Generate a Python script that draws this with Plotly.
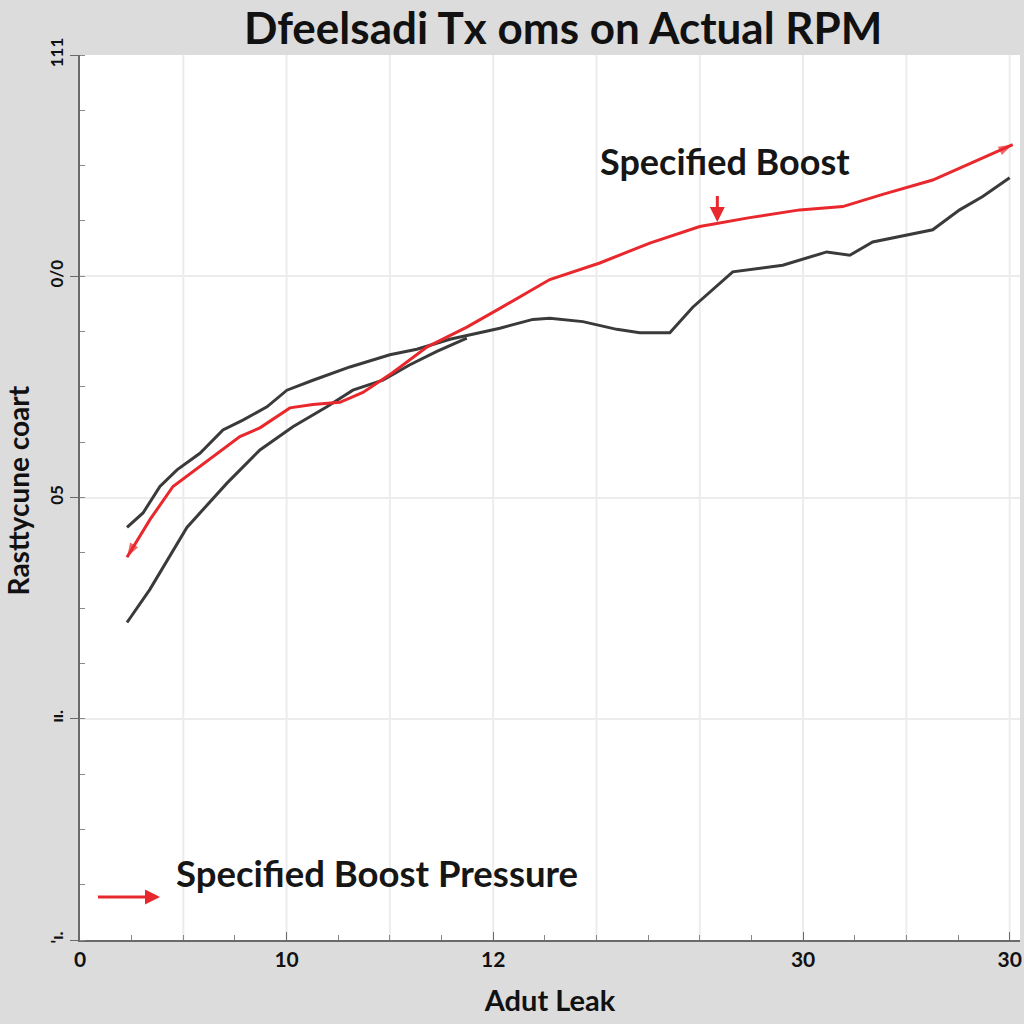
import plotly.graph_objects as go

# ---- data ----
specified_x = [0.455, 0.677, 0.900, 1.161, 1.548, 1.742, 2.032, 2.255, 2.516, 2.739, 3.029, 3.358,
               3.745, 4.065, 4.384, 4.548, 5.032, 5.516, 6.000, 6.484, 6.968, 7.384, 7.771, 8.255,
               8.642, 9.029]
specified_y = [3.46, 3.80, 4.10, 4.28, 4.55, 4.63, 4.81, 4.84, 4.86, 4.95, 5.13, 5.36,
               5.54, 5.71, 5.88, 5.97, 6.12, 6.30, 6.45, 6.53, 6.60, 6.63, 6.74, 6.87,
               7.03, 7.19]

actual_x = [0.455, 0.610, 0.774, 0.939, 1.161, 1.384, 1.577, 1.810, 2.003, 2.255, 2.613, 3.000,
            3.261, 3.581, 4.065, 4.384, 4.548, 4.868, 5.197, 5.419, 5.710, 5.932, 6.319, 6.803,
            7.229, 7.452, 7.674, 7.936, 8.255, 8.516, 8.739, 9.000]
actual_y = [3.73, 3.86, 4.10, 4.25, 4.40, 4.61, 4.70, 4.82, 4.97, 5.06, 5.18, 5.29,
            5.34, 5.43, 5.53, 5.61, 5.62, 5.59, 5.52, 5.49, 5.49, 5.72, 6.04, 6.10,
            6.22, 6.19, 6.31, 6.36, 6.42, 6.60, 6.72, 6.89]

lower_x = [0.455, 0.677, 1.035, 1.423, 1.742, 2.061, 2.390, 2.642, 2.932, 3.194, 3.455, 3.745]
lower_y = [2.87, 3.17, 3.73, 4.13, 4.43, 4.64, 4.82, 4.97, 5.06, 5.20, 5.32, 5.44]

x_tickvals = [0, 2, 4, 7, 9]
x_ticktext = ["0", "10", "12", "30", "30"]
y_tickvals = [0, 2, 4, 6, 8]
y_ticktext = ["'ı.", "ıı.", "05", "0/0", "111"]

title_text = "Dfeelsadi T\u0445 oms on Actual RPM"
x_title = "Adut Leak"
y_title = "Rasttycune coart"
callout_text = "Specified Boost"
legend_text = "Specified Boost Pressure"

RED = "#e8282c"
DARK = "#3a3a3a"
FONT = "Lato"

fig = go.Figure()

fig.add_trace(go.Scatter(x=lower_x, y=lower_y, mode="lines",
                         line=dict(color=DARK, width=3), showlegend=False, hoverinfo="skip"))
fig.add_trace(go.Scatter(x=actual_x, y=actual_y, mode="lines",
                         line=dict(color=DARK, width=3), showlegend=False, hoverinfo="skip"))

n = len(specified_x)
sizes = [15] + [0] * (n - 2) + [15]
angles = [210] + [0] * (n - 2) + [64]
fig.add_trace(go.Scatter(x=specified_x, y=specified_y, mode="lines+markers",
                         line=dict(color=RED, width=3),
                         marker=dict(symbol="arrow", size=sizes, angle=angles, color=RED,
                                     line=dict(width=0)),
                         showlegend=False, hoverinfo="skip"))

# callout "Specified Boost" with short red arrow
fig.add_annotation(x=6.17, y=6.49, xref="x", yref="y", text=" ", showarrow=True,
                   arrowhead=2, arrowsize=1.0, arrowwidth=3, arrowcolor=RED, ax=0, ay=-36)
fig.add_annotation(x=6.24, y=7.04, xref="x", yref="y", text=callout_text, showarrow=False,
                   font=dict(family=FONT, size=36, color="#161616", weight="bold"))

# legend-like arrow + label
fig.add_annotation(x=0.0851, y=0.0486, xref="paper", yref="paper", text=" ", showarrow=True,
                   arrowhead=2, arrowsize=1.0, arrowwidth=3, arrowcolor=RED, ax=-65, ay=0)
fig.add_annotation(x=0.1, y=0.0486, xref="paper", yref="paper", text=legend_text,
                   showarrow=False, xanchor="left",
                   font=dict(family=FONT, size=36.5, color="#161616", weight="bold"))

# y-axis title placed near the left page edge
fig.add_annotation(x=-0.066, y=0.508, xref="paper", yref="paper", text=y_title,
                   showarrow=False, textangle=-90, xanchor="center", yanchor="middle",
                   font=dict(family=FONT, size=28, color="#111111", weight="bold"))

fig.update_layout(
    width=1024, height=1024,
    margin=dict(l=80, r=4, t=55, b=84),
    paper_bgcolor="#dcdcdc",
    plot_bgcolor="#ffffff",
    title=dict(text=title_text, x=0.55, xanchor="center", y=0.972, yanchor="middle",
               font=dict(family=FONT, size=44, color="#111111", weight="bold")),
    xaxis=dict(range=[0, 9.1], tickvals=x_tickvals, ticktext=x_ticktext, automargin=False,
               showgrid=False, zeroline=False,
               showline=True, linecolor="#6a6a6a", linewidth=2, mirror=False,
               ticks="inside", ticklen=8, tickcolor="#6a6a6a",
               minor=dict(dtick=0.5, ticks="inside", ticklen=5, tickcolor="#8a8a8a",
                          showgrid=False),
               tickfont=dict(family=FONT, size=21, color="#111111", weight="bold"),
               title=dict(text=x_title, standoff=20,
                          font=dict(family=FONT, size=29, color="#111111", weight="bold"))),
    yaxis=dict(range=[0, 8], tickvals=y_tickvals, ticktext=y_ticktext, tickangle=-90,
               automargin=False,
               showgrid=True, gridcolor="#ececec", gridwidth=2, zeroline=False,
               showline=True, linecolor="#6a6a6a", linewidth=2,
               ticks="outside", ticklen=8, tickcolor="#6a6a6a",
               minor=dict(dtick=0.5, ticks="inside", ticklen=5, tickcolor="#8a8a8a",
                          showgrid=False),
               tickfont=dict(family=FONT, size=17, color="#111111", weight="bold")),
)

# vertical grid lines at each major x step
for gx in range(1, 10):
    fig.add_vline(x=gx, line=dict(color="#ececec", width=2), layer="below")

fig.write_html("out.html", config={"displayModeBar": False},
               post_script="document.body.style.margin='0';document.body.style.padding='0';")
